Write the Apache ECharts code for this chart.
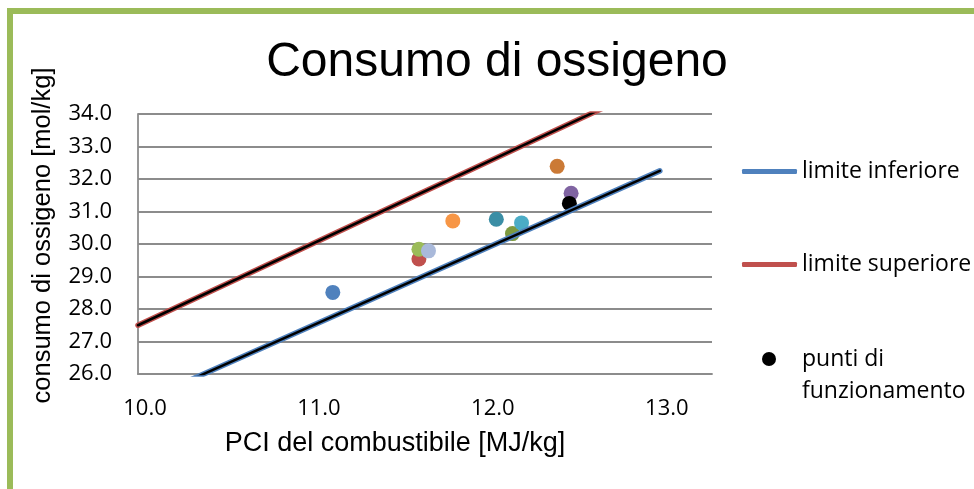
<!DOCTYPE html>
<html>
<head>
<meta charset="utf-8">
<script src="https://cdn.jsdelivr.net/npm/echarts@6/dist/echarts.min.js"></script>
<style>
  html, body { margin: 0; padding: 0; background: #ffffff; overflow: hidden; }
  #frame { position: absolute; left: 7px; top: 8px; width: 2000px; height: 2000px;
           border: 6px solid #9BBB59; box-sizing: border-box; }
  #chart { position: absolute; left: 0; top: 0; width: 974px; height: 489px; }
</style>
</head>
<body>
<div id="frame"></div>
<div id="chart"></div>
<script>
// ---- data ----
var titleText = 'Consumo di ossigeno';
var xAxisName = 'PCI del combustibile [MJ/kg]';
var yAxisName = 'consumo di ossigeno [mol/kg]';

var xTicks = [10, 11, 12, 13];
var yTicks = [26, 27, 28, 29, 30, 31, 32, 33, 34];

var limitX = [10, 13];
var limitInfY = [25.1, 32.25];
var limitSupY = [27.5, 35.0];

var pciX = [11.12, 11.615, 11.615, 11.67, 11.81, 12.06, 12.153, 12.205, 12.41, 12.49, 12.48];
var o2Y  = [28.51, 29.54, 29.84, 29.79, 30.71, 30.76, 30.32, 30.65, 32.39, 31.56, 31.25];
var pointColors = ['#4F81BD', '#C0504D', '#9BBB59', '#A9B9DA', '#F79646', '#3B8EA5',
                   '#7E9A3F', '#4BACC6', '#CB7A36', '#8064A2', '#000000'];

var seriesNames = ['limite inferiore', 'limite superiore', 'punti di funzionamento'];

// ---- build ----
function pairs(xs, ys) { return xs.map(function (x, i) { return [x, ys[i]]; }); }
var pointData = pciX.map(function (x, i) {
  return { value: [x, o2Y[i]], itemStyle: { color: pointColors[i] } };
});

var gridColor = '#8c8c8c';
var tickFont = { fontFamily: 'Open Sans', fontSize: 22, color: '#000' };
var legendFont = { fontFamily: 'Open Sans', fontSize: 23, color: '#000' };

var chart = echarts.init(document.getElementById('chart'), null, { renderer: 'canvas' });
chart.setOption({
  backgroundColor: 'transparent',
  animation: false,
  title: {
    text: titleText,
    left: 497, top: 39, textAlign: 'center', padding: 0,
    textStyle: { fontFamily: 'Liberation Sans', fontSize: 48, fontWeight: 'normal', color: '#000' }
  },
  grid: { left: 138, top: 114, width: 574, height: 260, outerBoundsMode: 'none', containLabel: false },
  xAxis: {
    type: 'value', min: 10, max: 13.3, interval: 1,
    name: xAxisName, nameLocation: 'middle', nameGap: 56,
    nameTextStyle: { fontFamily: 'Liberation Sans', fontSize: 27, color: '#000', padding: [0, 60, 0, 0] },
    axisLine: { show: true, onZero: false, lineStyle: { color: gridColor, width: 1.8 } },
    axisTick: { show: false },
    splitLine: { show: false },
    axisLabel: Object.assign({
      margin: 24,
      padding: [0, 0, 0, 14],
      formatter: function (v) {
        var r = Math.round(v * 10) / 10;
        return xTicks.indexOf(r) >= 0 ? r.toFixed(1) : '';
      }
    }, tickFont)
  },
  yAxis: {
    type: 'value', min: 26, max: 34, interval: 1,
    name: yAxisName, nameLocation: 'middle', nameGap: 82,
    nameTextStyle: { fontFamily: 'Liberation Sans', fontSize: 25.5, color: '#000', padding: [0, 0, 0, 17] },
    axisLine: { show: true, lineStyle: { color: gridColor, width: 1.8 } },
    axisTick: { show: false },
    splitLine: { show: true, lineStyle: { color: gridColor, width: 1.8 } },
    axisLabel: Object.assign({
      margin: 26,
      formatter: function (v) {
        var r = Math.round(v);
        return yTicks.indexOf(r) >= 0 ? r.toFixed(1) : '';
      }
    }, tickFont)
  },
  legend: [
    { data: [{ name: seriesNames[0], icon: 'roundRect' }], left: 742, top: 160, padding: 0,
      itemWidth: 55, itemHeight: 5, itemGap: 0, textStyle: legendFont, selectedMode: false },
    { data: [{ name: seriesNames[1], icon: 'roundRect' }], left: 742, top: 253, padding: 0,
      itemWidth: 55, itemHeight: 5, itemGap: 0, textStyle: legendFont, selectedMode: false },
    { data: [{ name: seriesNames[2], icon: 'circle' }], left: 762, top: 311, padding: 0,
      itemWidth: 14, itemHeight: 14, itemGap: 0,
      textStyle: Object.assign({ lineHeight: 32, padding: [0, 0, 0, 21] }, legendFont),
      formatter: function () { return '\npunti di\nfunzionamento'; }, selectedMode: false }
  ],
  series: [
    {
      name: seriesNames[2], type: 'scatter', z: 2,
      symbol: 'circle', symbolSize: 15,
      itemStyle: { color: '#000000', opacity: 1 },
      data: pointData
    },
    {
      name: seriesNames[0], type: 'line', z: 3, clip: true, symbol: 'none',
      color: '#4F81BD',
      lineStyle: { color: '#4F81BD', width: 5.5, cap: 'round' },
      data: pairs(limitX, limitInfY)
    },
    {
      name: '_inf_core', type: 'line', z: 4, clip: true, symbol: 'none',
      lineStyle: { color: '#000000', width: 2.5, cap: 'round' },
      data: pairs(limitX, limitInfY)
    },
    {
      name: seriesNames[1], type: 'line', z: 3, clip: true, symbol: 'none',
      color: '#C0504D',
      lineStyle: { color: '#C0504D', width: 5.5, cap: 'round' },
      data: pairs(limitX, limitSupY)
    },
    {
      name: '_sup_core', type: 'line', z: 4, clip: true, symbol: 'none',
      lineStyle: { color: '#000000', width: 2.5, cap: 'round' },
      data: pairs(limitX, limitSupY)
    }
  ]
});
</script>
</body>
</html>
